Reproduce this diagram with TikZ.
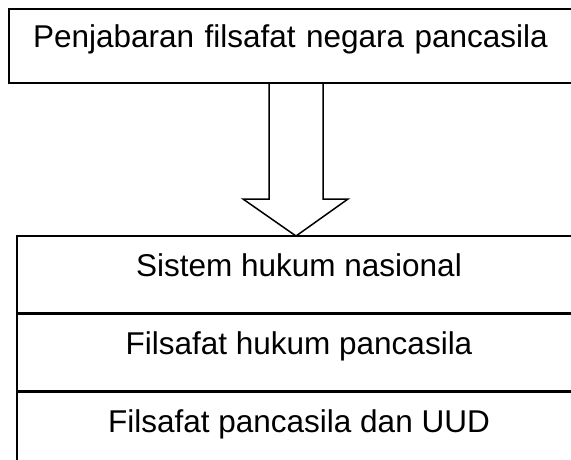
\documentclass[tikz,border=0pt]{standalone}
\usepackage{fontspec}
\setmainfont{Liberation Sans}
\usetikzlibrary{positioning,calc}
\tikzset{
  rowbox/.style={draw,rectangle,line width=1.5pt,minimum width=564pt,minimum height=76.5pt,inner sep=0pt,
    font=\fontsize{31.5}{38}\selectfont,text height=20pt,text depth=15pt,align=center},
  hdrbox/.style={rowbox,minimum width=582pt,minimum height=74pt,text width=534pt,inner xsep=24pt,align=left,text depth=18pt},
  blkarr/.style={draw,line width=1.5pt,line join=miter}
}
\begin{document}
\begin{tikzpicture}[x=1pt,y=1pt]
  \useasboundingbox (0,0) rectangle (571,-459);
  \clip (0,0) rectangle (571,-459);
  \fill[white] (0,0) rectangle (571,-459);
  % Top box
  \node[hdrbox] (top) at (300,-46) {Penjabaran filsafat negara pancasila};

  % Stacked rows
  \node[rowbox] (row1) at (299,-274.25) {Sistem hukum nasional};
  \node[rowbox, below=0pt of row1] (row2) {Filsafat hukum pancasila};
  \node[rowbox, below=0pt of row2] (row3) {Filsafat pancasila dan UUD};

  % Block arrow
  \coordinate (tip) at (296,-236);
  \draw[blkarr] ($(top.south -| tip)+(-27,0)$) -- ($(tip)+(-27,37)$) -- ($(tip)+(-53,37)$) -- (tip)
    -- ($(tip)+(52,37)$) -- ($(tip)+(27,37)$) -- ($(top.south -| tip)+(27,0)$);
\end{tikzpicture}
\end{document}
